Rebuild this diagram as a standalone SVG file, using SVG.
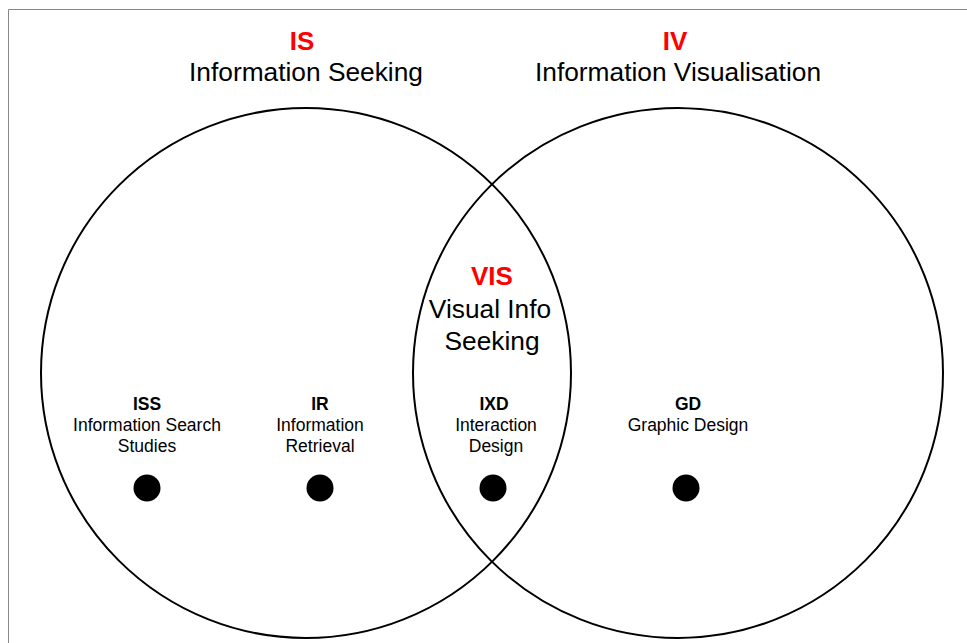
<svg xmlns="http://www.w3.org/2000/svg" width="967" height="643" viewBox="0 0 967 643">
  <style>
    text { font-family: "Liberation Sans", Arial, sans-serif; text-anchor: middle; fill: #000; }
    .abbr { fill: #ff0000; font-weight: bold; font-size: 26px; }
    .title { font-size: 26.3px; }
    .code { font-weight: bold; font-size: 17.5px; }
    .name { font-size: 17.5px; }
    .set { fill: none; stroke: #000; stroke-width: 2; }
    .dot { fill: #000; }
  </style>
  <rect x="0" y="0" width="967" height="643" fill="#fff"/>
  <!-- frame -->
  <path d="M8.5 643 V9.5 H967" fill="none" stroke="#888" stroke-width="1"/>

  <g id="connectors"/>

  <!-- sets -->
  <g id="set-is">
    <circle class="set" cx="306" cy="373" r="265"/>
    <text class="abbr" x="302" y="50">IS</text>
    <text class="title" x="306" y="81">Information Seeking</text>
  </g>
  <g id="set-iv">
    <circle class="set" cx="678" cy="373" r="265"/>
    <text class="abbr" x="675" y="50">IV</text>
    <text class="title" x="678" y="81">Information Visualisation</text>
  </g>
  <g id="set-vis">
    <text class="abbr" x="492" y="285">VIS</text>
    <text class="title" x="490" y="318">Visual Info</text>
    <text class="title" x="492" y="350">Seeking</text>
  </g>

  <!-- fields -->
  <g id="iss">
    <text class="code" x="147" y="410">ISS</text>
    <text class="name" x="147" y="431">Information Search</text>
    <text class="name" x="147" y="452">Studies</text>
    <circle class="dot" cx="147" cy="488" r="13.5"/>
  </g>
  <g id="ir">
    <text class="code" x="320" y="410">IR</text>
    <text class="name" x="320" y="431">Information</text>
    <text class="name" x="320" y="452">Retrieval</text>
    <circle class="dot" cx="320" cy="488" r="13.5"/>
  </g>
  <g id="ixd">
    <text class="code" x="494" y="410">IXD</text>
    <text class="name" x="496" y="431">Interaction</text>
    <text class="name" x="496" y="452">Design</text>
    <circle class="dot" cx="493" cy="488" r="13.5"/>
  </g>
  <g id="gd">
    <text class="code" x="688" y="410">GD</text>
    <text class="name" x="688" y="431">Graphic Design</text>
    <circle class="dot" cx="686" cy="488" r="13.5"/>
  </g>
</svg>
